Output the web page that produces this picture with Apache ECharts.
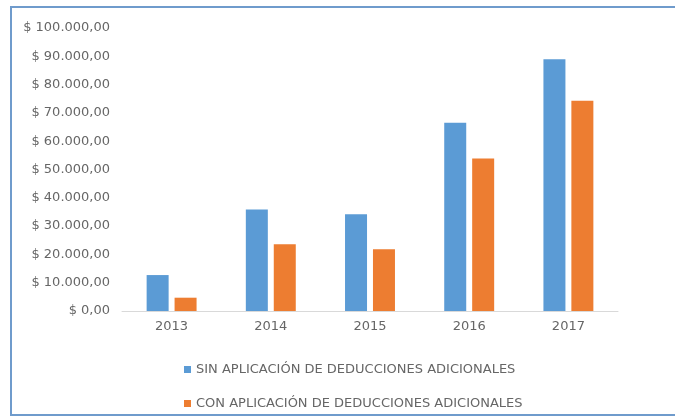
<!DOCTYPE html>
<html>
<head>
<meta charset="utf-8">
<script src="https://cdn.jsdelivr.net/npm/echarts@6/dist/echarts.min.js"></script>
<style>
html,body{margin:0;padding:0;background:#fff;}
#c{width:675px;height:417px;}
</style>
</head>
<body>
<div id="c"></div>
<script>
const categories = ['2013', '2014', '2015', '2016', '2017'];
const sinDeducciones = [12700, 35900, 34200, 66500, 89000];
const conDeducciones = [4700, 23600, 21800, 53900, 74300];
const seriesNames = ['SIN APLICACIÓN DE DEDUCCIONES ADICIONALES', 'CON APLICACIÓN DE DEDUCCIONES ADICIONALES'];

function fmt(v) {
  const s = String(Math.round(v)).replace(/\B(?=(\d{3})+(?!\d))/g, '.');
  return '$ ' + s + ',00';
}

const chart = echarts.init(document.getElementById('c'));
chart.setOption({
  animation: false,
  backgroundColor: '#fff',
  textStyle: { fontFamily: 'DejaVu Sans' },
  graphic: [{
    type: 'rect',
    shape: { x: 11, y: 7, width: 800, height: 408 },
    style: { fill: 'none', stroke: '#6f9bcc', lineWidth: 2 },
    silent: true
  }],
  grid: { left: 122, right: 57, top: 28, bottom: 106 },
  xAxis: {
    type: 'category',
    data: categories,
    axisLine: { lineStyle: { color: '#d9d9d9' } },
    axisTick: { show: false },
    axisLabel: { color: '#666666', fontSize: 13, margin: 9 }
  },
  yAxis: {
    type: 'value',
    min: 0, max: 100000, interval: 10000,
    splitLine: { show: false },
    axisLine: { show: false },
    axisTick: { show: false },
    axisLabel: { color: '#666666', fontSize: 13, margin: 12, formatter: fmt }
  },
  legend: {
    orient: 'vertical',
    left: 179, top: 358,
    itemWidth: 7, itemHeight: 7, itemGap: 21,
    icon: 'rect',
    textStyle: { color: '#666666', fontSize: 13 },
    data: seriesNames
  },
  series: [
    { name: seriesNames[0], type: 'bar', data: sinDeducciones, itemStyle: { color: '#5b9bd5' }, barWidth: 22, barGap: '27%' },
    { name: seriesNames[1], type: 'bar', data: conDeducciones, itemStyle: { color: '#ed7d31' }, barWidth: 22 }
  ]
});
</script>
</body>
</html>
